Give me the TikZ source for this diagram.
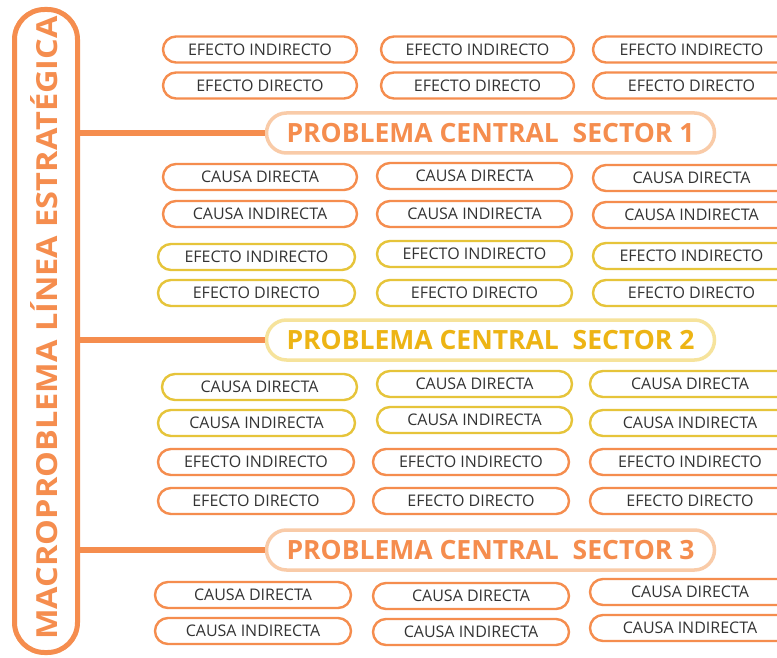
\documentclass[tikz,border=0pt]{standalone}
\usepackage{fontspec}
\setmainfont{Open Sans}
\definecolor{cOr}{HTML}{F58D4E}
\definecolor{cOrPale}{HTML}{F9CBA8}
\definecolor{cYe}{HTML}{E6C43A}
\definecolor{cYePale}{HTML}{F6E39C}
\definecolor{cYeTxt}{HTML}{EDB414}
\definecolor{cTxt}{HTML}{333333}
\newcommand\pl[6]{\node[#1, minimum width={#4pt-#3pt}] (#2) at ({(#3+#4)/2},#5) {#6};}
\begin{document}
\begin{tikzpicture}[x=1pt,y=-1pt,
  pill/.style={draw, line width=2.4pt, rounded corners=13pt, minimum height=26pt, inner sep=0pt, text=cTxt, font=\fontsize{16}{16}\selectfont},
  opill/.style={pill, draw=cOr},
  ypill/.style={pill, draw=cYe},
  bigpill/.style={draw, line width=3.5pt, rounded corners=20pt, minimum height=40pt, minimum width=448pt, inner sep=0pt, font=\bfseries\fontsize{26.5}{26.5}\selectfont},
  link/.style={draw=cOr, line width=6pt}]
\useasboundingbox (0,0) rectangle (777,658);
\clip (0,0) rectangle (777,658);
\fill[white] (0,0) rectangle (777,658);

% left title box
\node[draw=cOr, line width=5pt, rounded corners=30pt, minimum width=63pt, minimum height=643pt, inner sep=0pt] (macro) at (46,331) {};
\node[rotate=90, text=cOr, inner sep=0pt, font=\bfseries\fontsize{29}{29}\selectfont] (title) at (44,328) {\scalebox{1.12}[1]{MACROPROBLEMA LÍNEA ESTRATÉGICA}};

% central problems
\node[bigpill, draw=cOrPale, text=cOr] (s1) at (490.5,133) {PROBLEMA CENTRAL~~SECTOR 1};
\node[bigpill, draw=cYePale, text=cYeTxt] (s2) at (490.5,340) {PROBLEMA CENTRAL~~SECTOR 2};
\node[bigpill, draw=cOrPale, text=cOr] (s3) at (490.5,550) {PROBLEMA CENTRAL~~SECTOR 3};

\draw[link] (s1.west -| macro.east) -- (s1.west);
\draw[link] (s2.west -| macro.east) -- (s2.west);
\draw[link] (s3.west -| macro.east) -- (s3.west);

% sector 1
\pl{opill}{a11}{163}{357}{49.5}{EFECTO INDIRECTO}
\pl{opill}{a12}{381}{574}{49.5}{EFECTO INDIRECTO}
\pl{opill}{a13}{593}{790}{49.5}{EFECTO INDIRECTO}
\pl{opill}{a21}{163}{357}{85.5}{EFECTO DIRECTO}
\pl{opill}{a22}{381}{574}{85.5}{EFECTO DIRECTO}
\pl{opill}{a23}{593}{790}{85.5}{EFECTO DIRECTO}
\pl{opill}{b11}{163}{357}{177}{CAUSA DIRECTA}
\pl{opill}{b12}{377}{572}{176}{CAUSA DIRECTA}
\pl{opill}{b13}{593}{790}{178}{CAUSA DIRECTA}
\pl{opill}{b21}{163}{357}{214}{CAUSA INDIRECTA}
\pl{opill}{b22}{377}{572}{214}{CAUSA INDIRECTA}
\pl{opill}{b23}{593}{790}{215}{CAUSA INDIRECTA}

% sector 2
\pl{ypill}{c11}{158}{355}{257}{EFECTO INDIRECTO}
\pl{ypill}{c12}{377}{572}{254}{EFECTO INDIRECTO}
\pl{ypill}{c13}{593}{790}{256}{EFECTO INDIRECTO}
\pl{ypill}{c21}{158}{355}{293}{EFECTO DIRECTO}
\pl{ypill}{c22}{377}{572}{293}{EFECTO DIRECTO}
\pl{ypill}{c23}{593}{790}{293}{EFECTO DIRECTO}
\pl{ypill}{d11}{162}{357}{387}{CAUSA DIRECTA}
\pl{ypill}{d12}{377}{572}{384}{CAUSA DIRECTA}
\pl{ypill}{d13}{590}{790}{384}{CAUSA DIRECTA}
\pl{ypill}{d21}{158}{355}{423}{CAUSA INDIRECTA}
\pl{ypill}{d22}{377}{572}{420}{CAUSA INDIRECTA}
\pl{ypill}{d23}{590}{790}{423}{CAUSA INDIRECTA}

% sector 3
\pl{opill}{e11}{158}{354}{462}{EFECTO INDIRECTO}
\pl{opill}{e12}{373}{569}{462}{EFECTO INDIRECTO}
\pl{opill}{e13}{590}{790}{462}{EFECTO INDIRECTO}
\pl{opill}{e21}{158}{354}{501}{EFECTO DIRECTO}
\pl{opill}{e22}{373}{569}{501}{EFECTO DIRECTO}
\pl{opill}{e23}{590}{790}{501}{EFECTO DIRECTO}
\pl{opill}{f11}{155}{351}{595}{CAUSA DIRECTA}
\pl{opill}{f12}{373}{569}{596}{CAUSA DIRECTA}
\pl{opill}{f13}{590}{790}{592}{CAUSA DIRECTA}
\pl{opill}{f21}{155}{351}{631}{CAUSA INDIRECTA}
\pl{opill}{f22}{373}{569}{632}{CAUSA INDIRECTA}
\pl{opill}{f23}{590}{790}{628}{CAUSA INDIRECTA}
\end{tikzpicture}
\end{document}
